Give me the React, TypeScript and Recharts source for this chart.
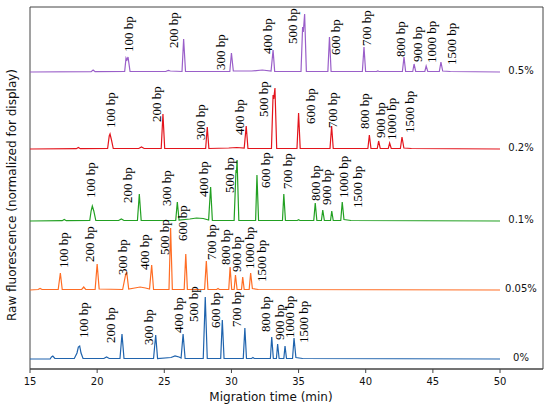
import React from 'react';
import { ComposedChart, Line, Scatter, XAxis, YAxis, ReferenceArea } from 'recharts';

// peak lists: [migration time (min), height above the trace baseline]
const trace0: [number, number][] = [
  [15, 0], [16.5, 0], [16.6, 2], [16.7, 3], [16.85, 0.5], [18.3, 0.5], [18.5, 6], [18.6, 12], [18.7, 13], [18.8, 6],
  [18.95, 0.5], [20.5, 0.5], [20.7, 2], [20.9, 0.5], [21.7, 0.5], [21.85, 25], [22.0, 0.5], [24.2, 0.5], [24.36, 24],
  [24.5, 0.5], [25.5, 1.5], [25.8, 3], [26.1, 2], [26.25, 1], [26.4, 25], [26.55, 0.5], [27.9, 0.5], [28.05, 62],
  [28.2, 0.5], [29.2, 0.5], [29.32, 39], [29.45, 0.5], [30.88, 0.5], [31.0, 31], [31.12, 0.5], [31.5, 0.5], [31.6, 1.5],
  [31.7, 0.5], [32.9, 0.5], [33.0, 22], [33.12, 0.5], [33.35, 0.5], [33.44, 15], [33.55, 0.5], [33.9, 0.5], [33.99, 13],
  [34.1, 0.5], [34.55, 0.5], [34.66, 21], [34.8, 1.5], [35.3, 0.5], [50, 0],
];
const trace005: [number, number][] = [
  [15, 0], [15.6, 0.5], [15.75, 1.5], [15.9, 0.5], [17.1, 0.5], [17.26, 17], [17.4, 0.5], [18.85, 0.5], [19.0, 3],
  [19.15, 0.5], [19.85, 0.5], [20.0, 26], [20.15, 1], [21.9, 0.5], [22.1, 14], [22.2, 18], [22.35, 1], [22.8, 2],
  [23.2, 3], [23.6, 2], [23.9, 1], [24.06, 25], [24.2, 0.5], [25.35, 0.5], [25.47, 62], [25.6, 0.5], [26.48, 0.5],
  [26.6, 36], [26.72, 0.5], [28.0, 0.5], [28.13, 29], [28.25, 0.5], [28.9, 0.5], [29.0, 1.5], [29.1, 0.5], [29.8, 0.5],
  [29.9, 23], [30.02, 0.5], [30.2, 0.5], [30.3, 15], [30.42, 0.5], [30.75, 0.5], [30.84, 13], [30.95, 0.5], [31.32, 0.5],
  [31.43, 17], [31.56, 1.5], [32, 0.5], [50, 0],
];
const trace01: [number, number][] = [
  [15, 0], [17.4, 0.3], [17.55, 1.5], [17.7, 0.3], [19.45, 0.5], [19.55, 10], [19.64, 15], [19.75, 10], [19.9, 0.5],
  [21.6, 0.5], [21.8, 2], [22.0, 0.5], [23.0, 0.5], [23.14, 27], [23.28, 0.5], [25.85, 0.5], [25.97, 19], [26.1, 1],
  [26.9, 2], [27.4, 3], [27.9, 2.5], [28.3, 1], [28.45, 34], [28.58, 0.5], [30.2, 0.5], [30.34, 51], [30.37, 48],
  [30.42, 61], [30.55, 0.5], [31.8, 0.5], [31.9, 46], [32.02, 0.5], [33.8, 0.5], [33.9, 27], [34.02, 0.5], [34.9, 0.5],
  [35.0, 1.2], [35.1, 0.5], [36.13, 0.5], [36.24, 18], [36.36, 0.5], [36.7, 0.5], [36.8, 11], [36.92, 0.5], [37.38, 0.5],
  [37.47, 10], [37.58, 0.5], [38.14, 0.5], [38.25, 19], [38.38, 1.5], [38.9, 0.5], [50, 0],
];
const trace02: [number, number][] = [
  [15, 0], [18.45, 0.3], [18.6, 1.5], [18.75, 0.3], [20.78, 0.5], [20.9, 13], [20.96, 15], [21.05, 10], [21.2, 0.5],
  [23.1, 0.5], [23.3, 2], [23.5, 0.5], [24.77, 0.5], [24.9, 35], [25.03, 0.5], [28.08, 0.5], [28.2, 22], [28.32, 0.5],
  [29.8, 1], [30.4, 1.5], [30.95, 1], [31.1, 23], [31.23, 0.5], [32.98, 0.5], [33.1, 54], [33.15, 50], [33.24, 61],
  [33.37, 0.5], [34.88, 0.5], [35.0, 36], [35.12, 0.5], [37.34, 0.5], [37.46, 23], [37.58, 0.5], [40.16, 0.5],
  [40.27, 14], [40.39, 0.5], [40.86, 0.5], [40.96, 8], [41.08, 0.5], [41.68, 0.5], [41.78, 6], [41.9, 0.5], [42.58, 0.5],
  [42.7, 12], [42.84, 1], [43.4, 0.5], [50, 0],
];
const trace05: [number, number][] = [
  [15, 0], [19.55, 0.3], [19.7, 2], [19.85, 0.3], [22.05, 0.5], [22.15, 14], [22.22, 12], [22.3, 15], [22.45, 0.5],
  [25.1, 0.5], [25.3, 1.5], [25.45, 1], [26.32, 0.5], [26.44, 33], [26.58, 0.5], [29.88, 0.5], [30.0, 19], [30.14, 1],
  [31.5, 1], [32.3, 2], [32.95, 1], [33.1, 22], [33.22, 0.5], [35.18, 0.5], [35.3, 45], [35.35, 40], [35.45, 58],
  [35.58, 0.5], [37.18, 0.5], [37.3, 35], [37.42, 0.5], [39.75, 0.5], [39.87, 25], [39.99, 0.5], [40.8, 0.5], [40.9, 1],
  [41.0, 0.5], [42.73, 0.5], [42.85, 15], [42.97, 0.5], [43.5, 0.5], [43.6, 8], [43.72, 0.5], [44.4, 0.5], [44.5, 6],
  [44.62, 0.5], [45.48, 0.5], [45.6, 10], [45.73, 1], [46.3, 0.5], [50, 0],
];

// fragment sizes labelled on every trace
const sizes = ['100 bp', '200 bp', '300 bp', '400 bp', '500 bp', '600 bp', '700 bp', '800 bp', '900 bp', '1000 bp', '1500 bp'];

// where each size label sits: time and height (chart units)
const labelT0 = [18.95, 20.96, 23.79, 26.02, 27.14, 28.78, 30.41, 32.5, 33.54, 34.29, 35.33];
const labelY0 = [31, 26, 24, 36, 47, 41, 42, 37, 29, 31, 26];
const labelT005 = [17.46, 19.39, 21.85, 23.49, 24.98, 26.32, 28.48, 29.59, 30.34, 31.31, 32.2];
const labelY005 = [101, 107, 94, 99, 114, 128, 109, 104, 97, 100, 87];
const labelT01 = [19.47, 22.22, 25.13, 27.88, 29.82, 32.5, 34.14, 36.22, 37.11, 38.31, 39.35];
const labelY01 = [171, 166, 163, 172, 176, 181, 180, 168, 164, 171, 161];
const labelT02 = [20.96, 24.38, 27.66, 30.56, 32.35, 35.85, 37.49, 39.94, 41.06, 41.95, 43.22];
const labelY02 = [241, 247, 229, 234, 252, 245, 241, 240, 231, 229, 236];
const labelT05 = [22.3, 25.65, 29.15, 32.65, 34.58, 37.71, 40.09, 42.55, 43.82, 44.86, 46.35];
const labelY05 = [317, 321, 299, 315, 325, 314, 323, 312, 307, 306, 304];

const concentrations = ['0%', '0.05%', '0.1%', '0.2%', '0.5%'];
const baselines = [10, 79, 148, 220, 297];
const colors = ['#1f63ad', '#ff6d24', '#22a022', '#e3141c', '#9a5fc9'];
const xTicks = [15, 20, 25, 30, 35, 40, 45, 50];

const traces = [trace0, trace005, trace01, trace02, trace05];
const labelTs = [labelT0, labelT005, labelT01, labelT02, labelT05];
const labelYs = [labelY0, labelY005, labelY01, labelY02, labelY05];

const SizeLabel = (props: any) => {
  const { cx, cy, payload } = props;
  return (
    <text
      x={cx}
      y={cy}
      dy="0.35em"
      transform={`rotate(-90, ${cx}, ${cy})`}
      textAnchor="start"
      style={{ fontFamily: 'Liberation Serif', fontSize: 13 }}
      fill="#000"
    >
      {payload.text}
    </text>
  );
};

const ConcLabel = (props: any) => {
  const { cx, cy, payload } = props;
  return (
    <text
      x={cx}
      y={cy}
      textAnchor="middle"
      dominantBaseline="central"
      style={{ fontFamily: 'DejaVu Sans', fontSize: 10 }}
      fill="#111"
    >
      {payload.text}
    </text>
  );
};

export default function App() {
  const concData = concentrations.map((c, i) => ({ t: 51.56, y: baselines[i] + 2, text: c }));

  return (
    <div style={{ position: 'absolute', left: 0, top: 0, width: 550, height: 410, background: '#fff' }}>
      <ComposedChart width={550} height={410} margin={{ top: 7, right: 7, left: 30, bottom: 21 }}>
        <XAxis
          dataKey="t"
          type="number"
          domain={[15, 53.2]}
          ticks={xTicks}
          allowDataOverflow
          height={20}
          tickSize={4}
          tickMargin={5}
          stroke="#444"
          tick={{ fill: '#111', fontSize: 10, fontFamily: 'DejaVu Sans' }}
        />
        <YAxis type="number" domain={[0, 362]} hide />

        {/* plot frame */}
        <ReferenceArea x1={15} x2={53.2} y1={0} y2={362} fill="none" stroke="#444" strokeWidth={1} ifOverflow="extendDomain" />

        {traces.map((tr, i) => (
          <Line
            key={concentrations[i]}
            data={tr.map(([t, h]) => ({ t, y: h + baselines[i] }))}
            dataKey="y"
            type="linear"
            stroke={colors[i]}
            strokeWidth={1.2}
            dot={false}
            activeDot={false}
            isAnimationActive={false}
          />
        ))}

        {labelTs.map((ts, i) => (
          <Scatter
            key={'lbl' + i}
            data={sizes.map((s, j) => ({ t: ts[j], y: labelYs[i][j], text: s }))}
            dataKey="y"
            shape={SizeLabel}
            isAnimationActive={false}
          />
        ))}
        <Scatter data={concData} dataKey="y" shape={ConcLabel} isAnimationActive={false} />
      </ComposedChart>
      <div
        style={{
          position: 'absolute',
          left: 271,
          top: 397,
          transform: 'translate(-50%, -50%)',
          fontFamily: 'DejaVu Sans',
          fontSize: 12,
          whiteSpace: 'nowrap',
          color: '#111',
        }}
      >
        Migration time (min)
      </div>
      <div
        style={{
          position: 'absolute',
          left: 12,
          top: 195,
          transform: 'translate(-50%, -50%) rotate(-90deg)',
          fontFamily: 'DejaVu Sans',
          fontSize: 12,
          whiteSpace: 'nowrap',
          color: '#111',
        }}
      >
        Raw fluorescence (normalized for display)
      </div>
    </div>
  );
}
